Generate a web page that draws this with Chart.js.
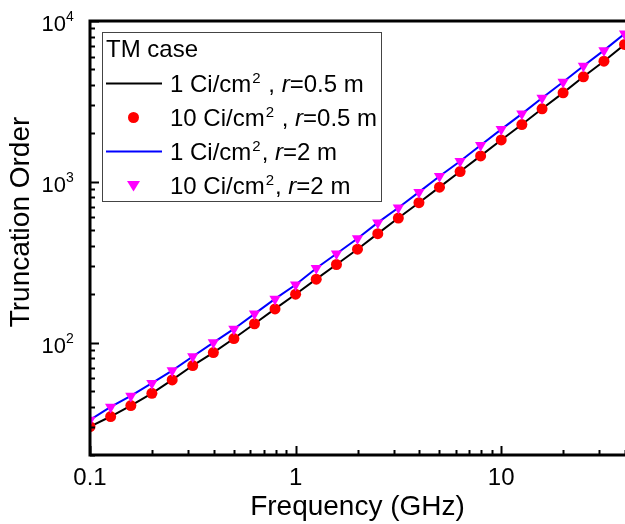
<!DOCTYPE html>
<html>
<head>
<meta charset="utf-8">
<script src="https://cdn.jsdelivr.net/npm/chart.js@4.4.0/dist/chart.umd.min.js"></script>
<style>
html, body { margin: 0; padding: 0; background: #fff; }
#wrap { width: 625px; height: 524px; }
</style>
</head>
<body>
<div id="wrap"><canvas id="myChart" width="625" height="524"></canvas></div>
<script>
// frequencies (GHz), 10 points per decade
var freqGHz = [0.1, 0.126, 0.158, 0.2, 0.251, 0.316, 0.398, 0.501, 0.631, 0.794,
               1, 1.26, 1.58, 2, 2.51, 3.16, 3.98, 5.01, 6.31, 7.94,
               10, 12.6, 15.8, 20, 25.1, 31.6, 39.8];
// truncation order, r = 0.5 m
var order1Ci_r05 = [30, 34.7, 40.6, 48.4, 58.6, 72, 86.7, 106, 131, 162,
                    200, 248, 306, 381, 476, 595, 741, 926, 1158, 1449,
                    1820, 2270, 2844, 3573, 4497, 5623, 7145];
var order10Ci_r05 = [30, 34.7, 40.6, 48.4, 58.6, 72, 86.7, 106, 131, 162,
                     200, 248, 306, 381, 476, 595, 741, 926, 1158, 1449,
                     1820, 2270, 2844, 3573, 4497, 5623, 7145];
// truncation order, r = 2 m
var order1Ci_r2 = [33, 39.8, 46.6, 55.9, 67, 81.9, 100, 121.6, 151, 187,
                   229, 290, 357, 444, 557, 690, 862, 1083, 1343, 1687,
                   2119, 2646, 3324, 4177, 5248, 6564, 8318];
var order10Ci_r2 = [33, 39.8, 46.6, 55.9, 67, 81.9, 100, 121.6, 151, 187,
                    229, 290, 357, 444, 557, 690, 862, 1083, 1343, 1687,
                    2119, 2646, 3324, 4177, 5248, 6564, 8318];

var xTickLabels = [0.1, 1, 10];
var yTickExponents = [2, 3, 4];
var yTitle = 'Truncation Order';

var legendTitle = 'TM case';
var legendItems = [
    { kind: 'line', color: '#000000', parts: [['1 Ci/cm'], ['2', 'sup'], [' , '], ['r', 'it'], ['=0.5 m']] },
    { kind: 'dot', color: '#ff0000', parts: [['10 Ci/cm'], ['2', 'sup'], [' , '], ['r', 'it'], ['=0.5 m']] },
    { kind: 'line', color: '#0000ff', parts: [['1 Ci/cm'], ['2', 'sup'], [', '], ['r', 'it'], ['=2 m']] },
    { kind: 'tri', color: '#ff00ff', parts: [['10 Ci/cm'], ['2', 'sup'], [', '], ['r', 'it'], ['=2 m']] }
];

var FONT = "'Liberation Sans', Arial, sans-serif";

function pts(ys) {
    var out = [];
    for (var i = 0; i < freqGHz.length; i++) out.push({ x: freqGHz[i], y: ys[i] });
    return out;
}

// frame, inward ticks, tick labels, y title and the legend box
var framePlugin = {
    id: 'framePlugin',
    afterDraw: function(chart) {
        var ctx = chart.ctx;
        var a = chart.chartArea;
        var xs = chart.scales.x, ys = chart.scales.y;
        ctx.save();
        ctx.strokeStyle = '#000';
        ctx.lineWidth = 2;

        // y ticks
        for (var e = 1; e <= 4; e++) {
            for (var m = 1; m <= 9; m++) {
                var v = m * Math.pow(10, e);
                if (v < ys.min || v > ys.max) continue;
                var py = Math.round(ys.getPixelForValue(v)) + 0.5;
                ctx.beginPath();
                ctx.moveTo(a.left, py);
                ctx.lineTo(a.left + (m === 1 ? 9 : 5), py);
                ctx.stroke();
            }
        }
        // x ticks
        for (var e2 = -1; e2 <= 1; e2++) {
            for (var m2 = 1; m2 <= 9; m2++) {
                var vx = m2 * Math.pow(10, e2);
                if (vx < xs.min || vx > xs.max) continue;
                var px = Math.round(xs.getPixelForValue(vx)) + 0.5;
                ctx.beginPath();
                ctx.moveTo(px, a.bottom);
                ctx.lineTo(px, a.bottom - (m2 === 1 ? 9 : 5));
                ctx.stroke();
            }
        }

        // axes
        ctx.lineWidth = 3;
        ctx.beginPath();
        ctx.moveTo(a.left, a.top);
        ctx.lineTo(a.right, a.top);
        ctx.moveTo(a.left, a.top - 1.5);
        ctx.lineTo(a.left, a.bottom);
        ctx.lineTo(a.right, a.bottom);
        ctx.stroke();

        ctx.fillStyle = '#000';
        ctx.textBaseline = 'alphabetic';

        // x tick labels
        ctx.font = '24px ' + FONT;
        ctx.textAlign = 'center';
        xTickLabels.forEach(function(t) {
            ctx.fillText(String(t), xs.getPixelForValue(t), 485);
        });

        // y tick labels 10^n
        yTickExponents.forEach(function(n) {
            var py = ys.getPixelForValue(Math.pow(10, n));
            ctx.font = '22px ' + FONT;
            ctx.textAlign = 'right';
            ctx.fillText('10', 66, py + 10);
            ctx.font = '14px ' + FONT;
            ctx.textAlign = 'left';
            ctx.fillText(String(n), 66, py);
        });

        // y title
        ctx.save();
        ctx.translate(21, 222);
        ctx.rotate(-Math.PI / 2);
        ctx.font = '28px ' + FONT;
        ctx.textAlign = 'center';
        ctx.textBaseline = 'middle';
        ctx.fillText(yTitle, 0, 0);
        ctx.restore();

        // legend
        var bx = 102.5, by = 32.5, bw = 279, bh = 169;
        ctx.fillStyle = '#fff';
        ctx.fillRect(bx, by, bw, bh);
        ctx.lineWidth = 1;
        ctx.strokeStyle = '#444';
        ctx.strokeRect(bx, by, bw, bh);
        ctx.fillStyle = '#000';
        ctx.textAlign = 'left';
        ctx.textBaseline = 'alphabetic';
        ctx.font = '24px ' + FONT;
        ctx.fillText(legendTitle, 106, 57);

        for (var i = 0; i < legendItems.length; i++) {
            var it = legendItems[i];
            var cy = 83.5 + i * 34;
            if (it.kind === 'line') {
                ctx.strokeStyle = it.color;
                ctx.lineWidth = 2;
                ctx.beginPath();
                ctx.moveTo(106, cy);
                ctx.lineTo(162, cy);
                ctx.stroke();
            } else if (it.kind === 'dot') {
                ctx.fillStyle = it.color;
                ctx.beginPath();
                ctx.arc(133.5, cy, 5.5, 0, Math.PI * 2);
                ctx.fill();
            } else {
                ctx.fillStyle = it.color;
                ctx.beginPath();
                ctx.moveTo(127, cy - 4.5);
                ctx.lineTo(140, cy - 4.5);
                ctx.lineTo(133.5, cy + 6);
                ctx.closePath();
                ctx.fill();
            }
            var tx = 170, base = cy + 8;
            ctx.fillStyle = '#000';
            it.parts.forEach(function(p) {
                if (p[1] === 'sup') {
                    ctx.font = '15px ' + FONT;
                    ctx.fillText(p[0], tx + 1, base - 9);
                    tx += ctx.measureText(p[0]).width + 2;
                } else if (p[1] === 'it') {
                    ctx.font = 'italic 24px ' + FONT;
                    ctx.fillText(p[0], tx, base);
                    tx += ctx.measureText(p[0]).width;
                } else {
                    ctx.font = '24px ' + FONT;
                    ctx.fillText(p[0], tx, base);
                    tx += ctx.measureText(p[0]).width;
                }
            });
        }
        ctx.restore();
    }
};

function plotChart() {
    var ctx = document.getElementById('myChart').getContext('2d');
    new Chart(ctx, {
        type: 'line',
        data: {
            datasets: [{
                label: '10 Ci/cm2, r=2 m',
                data: pts(order10Ci_r2),
                showLine: false,
                pointStyle: 'triangle',
                rotation: 180,
                pointRadius: 6.5,
                pointBackgroundColor: '#ff00ff',
                pointBorderColor: '#ff00ff',
                pointBorderWidth: 0,
                order: 1
            }, {
                label: '10 Ci/cm2 , r=0.5 m',
                data: pts(order10Ci_r05),
                showLine: false,
                pointStyle: 'circle',
                pointRadius: 5.5,
                pointBackgroundColor: '#ff0000',
                pointBorderColor: '#ff0000',
                pointBorderWidth: 0,
                order: 1
            }, {
                label: '1 Ci/cm2, r=2 m',
                data: pts(order1Ci_r2),
                borderColor: '#0000ff',
                borderWidth: 2,
                pointRadius: 0,
                fill: false,
                order: 2
            }, {
                label: '1 Ci/cm2 , r=0.5 m',
                data: pts(order1Ci_r05),
                borderColor: '#000000',
                borderWidth: 2,
                pointRadius: 0,
                fill: false,
                order: 2
            }]
        },
        options: {
            responsive: false,
            animation: false,
            devicePixelRatio: 1,
            layout: { autoPadding: false, padding: { top: 21, left: 0, right: 0, bottom: 0 } },
            plugins: {
                legend: { display: false },
                tooltip: { enabled: false }
            },
            scales: {
                x: {
                    type: 'logarithmic',
                    min: 0.1,
                    max: 40,
                    grid: { display: false, drawTicks: false },
                    border: { display: false },
                    ticks: { display: false },
                    title: {
                        display: true,
                        text: 'Frequency (GHz)',
                        color: '#000',
                        font: { family: FONT, size: 28 },
                        padding: { top: 0, bottom: 0 }
                    },
                    afterFit: function(s) { s.height = 69; }
                },
                y: {
                    type: 'logarithmic',
                    min: 20,
                    max: 10000,
                    grid: { display: false, drawTicks: false },
                    border: { display: false },
                    ticks: { display: false },
                    afterFit: function(s) { s.width = 90; }
                }
            }
        },
        plugins: [framePlugin]
    });
}

window.onload = function() {
    plotChart();
};
</script>
</body>
</html>
